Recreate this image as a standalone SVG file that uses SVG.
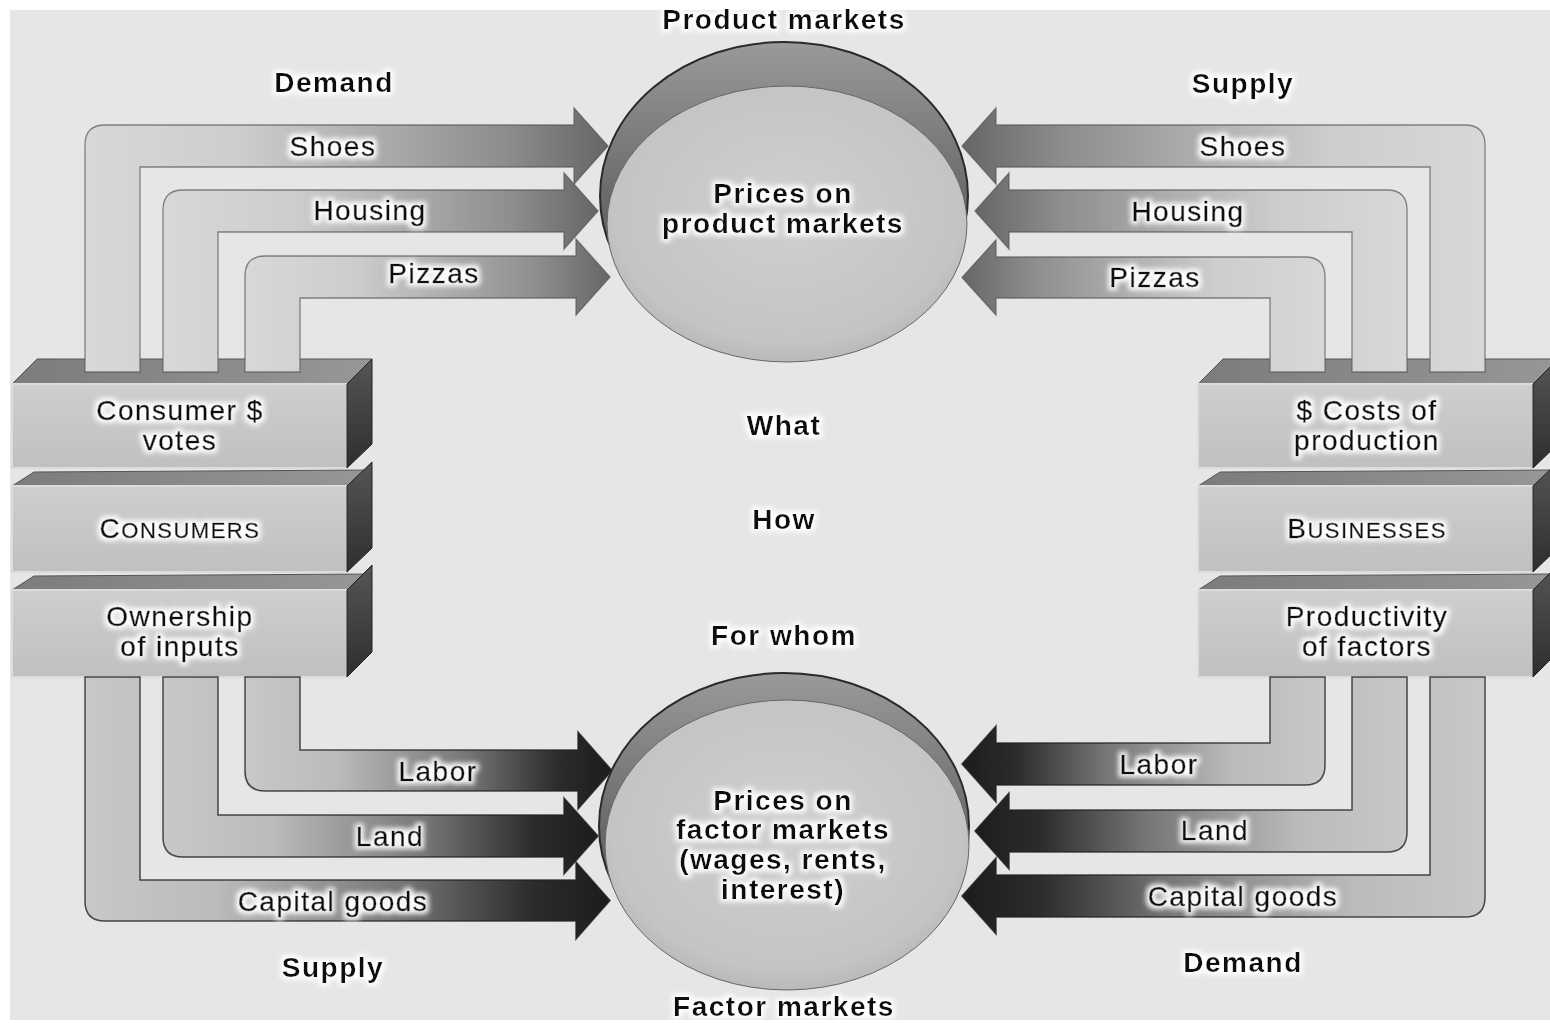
<svg xmlns="http://www.w3.org/2000/svg" width="1550" height="1023" viewBox="0 0 1550 1023">
<defs>
  <filter id="glow" x="-20%" y="-50%" width="140%" height="200%">
    <feMorphology in="SourceAlpha" operator="dilate" radius="2.5" result="d"/>
    <feGaussianBlur in="d" stdDeviation="2.5" result="b"/>
    <feFlood flood-color="#ffffff" flood-opacity="0.95"/>
    <feComposite in2="b" operator="in" result="g"/>
    <feMerge><feMergeNode in="g"/><feMergeNode in="SourceGraphic"/></feMerge>
  </filter>
  <linearGradient id="gTopR" x1="0" y1="0" x2="1" y2="0">
    <stop offset="0" stop-color="#d8d8d8"/>
    <stop offset="0.3" stop-color="#cdcdcd"/>
    <stop offset="0.8" stop-color="#8e8e8e"/>
    <stop offset="1" stop-color="#666666"/>
  </linearGradient>
  <linearGradient id="gTopL" x1="1" y1="0" x2="0" y2="0">
    <stop offset="0" stop-color="#d8d8d8"/>
    <stop offset="0.3" stop-color="#cdcdcd"/>
    <stop offset="0.8" stop-color="#8e8e8e"/>
    <stop offset="1" stop-color="#666666"/>
  </linearGradient>
  <linearGradient id="gBotR" x1="0" y1="0" x2="1" y2="0">
    <stop offset="0" stop-color="#c8c8c8"/>
    <stop offset="0.25" stop-color="#bbbbbb"/>
    <stop offset="0.6" stop-color="#777777"/>
    <stop offset="0.85" stop-color="#2c2c2c"/>
    <stop offset="1" stop-color="#1c1c1c"/>
  </linearGradient>
  <linearGradient id="gBotL" x1="1" y1="0" x2="0" y2="0">
    <stop offset="0" stop-color="#c8c8c8"/>
    <stop offset="0.25" stop-color="#bbbbbb"/>
    <stop offset="0.6" stop-color="#777777"/>
    <stop offset="0.85" stop-color="#2c2c2c"/>
    <stop offset="1" stop-color="#1c1c1c"/>
  </linearGradient>
  <linearGradient id="gFront" x1="0" y1="0" x2="0" y2="1">
    <stop offset="0" stop-color="#cecece"/>
    <stop offset="1" stop-color="#c0c0c0"/>
  </linearGradient>
  <linearGradient id="gTopFace" x1="0" y1="0" x2="1" y2="0">
    <stop offset="0" stop-color="#7c7c7c"/>
    <stop offset="1" stop-color="#979797"/>
  </linearGradient>
  <linearGradient id="gSide" x1="0" y1="0" x2="0" y2="1">
    <stop offset="0" stop-color="#555555"/>
    <stop offset="1" stop-color="#2e2e2e"/>
  </linearGradient>
  <linearGradient id="gRim" x1="0" y1="0" x2="0" y2="1">
    <stop offset="0" stop-color="#9a9a9a"/>
    <stop offset="0.5" stop-color="#6a6a6a"/>
    <stop offset="1" stop-color="#4a4a4a"/>
  </linearGradient>
  <radialGradient id="gFace" cx="0.5" cy="0.45" r="0.6">
    <stop offset="0" stop-color="#d0d0d0"/>
    <stop offset="0.8" stop-color="#c4c4c4"/>
    <stop offset="1" stop-color="#b2b2b2"/>
  </radialGradient>
</defs>
<style>
  text { font-family: "Liberation Sans", Arial, sans-serif; fill: #111; text-anchor: middle; letter-spacing: 1.5px; filter: url(#glow); }
  .b { font-weight: bold; font-size: 28px; }
  .r { font-size: 28px; stroke: #111; stroke-width: 0.5; }
  .front { fill: url(#gFront); stroke: #dcdcdc; stroke-width: 2; }
  .topf { fill: url(#gTopFace); stroke: #555; stroke-width: 1; }
  .side { fill: url(#gSide); stroke: #222; stroke-width: 1; }
  .arT { stroke: #555; stroke-width: 1.3; stroke-opacity: 0.7; }
  .arB { stroke: #222; stroke-width: 1.5; stroke-opacity: 0.8; }
  .rim { fill: url(#gRim); stroke: #2a2a2a; stroke-width: 2; }
  .face { fill: url(#gFace); stroke: #666; stroke-width: 1; }
</style>

<rect x="0" y="0" width="1550" height="1023" fill="#ffffff"/>
<rect x="10" y="10" width="1540" height="1010" fill="#e6e6e6"/>

<g id="consumers">
  <polygon class="topf" points="12,384 37,359 372,359 347,384"/>
  <rect class="front" x="12" y="384" width="335" height="84"/>
  <polygon class="side" points="347,384 372,359 372,444 347,468"/>
  <polygon class="topf" points="12,486 34,472 372,470 347,486"/>
  <rect class="front" x="12" y="486" width="335" height="86"/>
  <polygon class="side" points="347,486 372,462 372,548 347,572"/>
  <polygon class="topf" points="12,590 34,576 372,574 347,590"/>
  <rect class="front" x="12" y="590" width="335" height="87"/>
  <polygon class="side" points="347,590 372,565 372,652 347,677"/>
  <text class="r" x="180" y="420">Consumer $</text>
  <text class="r" x="180" y="450">votes</text>
  <text class="r" x="180" y="538">C<tspan font-size="22">ONSUMERS</tspan></text>
  <text class="r" x="180" y="626">Ownership</text>
  <text class="r" x="180" y="656">of inputs</text>
</g>

<g id="businesses">
  <polygon class="topf" points="1198,384 1223,359 1560,359 1533,384"/>
  <rect class="front" x="1198" y="384" width="335" height="84"/>
  <polygon class="side" points="1533,384 1558,359 1558,444 1533,468"/>
  <polygon class="topf" points="1198,486 1220,472 1558,470 1533,486"/>
  <rect class="front" x="1198" y="486" width="335" height="86"/>
  <polygon class="side" points="1533,486 1558,462 1558,548 1533,572"/>
  <polygon class="topf" points="1198,590 1220,576 1558,574 1533,590"/>
  <rect class="front" x="1198" y="590" width="335" height="87"/>
  <polygon class="side" points="1533,590 1558,565 1558,652 1533,677"/>
  <text class="r" x="1367" y="420">$ Costs of</text>
  <text class="r" x="1367" y="450">production</text>
  <text class="r" x="1367" y="538">B<tspan font-size="22">USINESSES</tspan></text>
  <text class="r" x="1367" y="626">Productivity</text>
  <text class="r" x="1367" y="656">of factors</text>
</g>

<g id="connectors">
  <path class="arT" fill="url(#gTopR)" d="M 85 372 L 85 145 Q 85 125 105 125 L 574 125 L 574 108 L 608 146 L 574 184 L 574 167 L 140 167 L 140 372 Z"/>
  <path class="arT" fill="url(#gTopR)" d="M 163 372 L 163 210 Q 163 190 183 190 L 564 190 L 564 173 L 598 211 L 564 249 L 564 232 L 218 232 L 218 372 Z"/>
  <path class="arT" fill="url(#gTopR)" d="M 245 372 L 245 276 Q 245 256 265 256 L 576 256 L 576 239 L 610 277 L 576 315 L 576 298 L 300 298 L 300 372 Z"/>
  <path class="arT" fill="url(#gTopL)" d="M 1485 372 L 1485 145 Q 1485 125 1465 125 L 996 125 L 996 108 L 962 146 L 996 184 L 996 167 L 1430 167 L 1430 372 Z"/>
  <path class="arT" fill="url(#gTopL)" d="M 1407 372 L 1407 210 Q 1407 190 1387 190 L 1009 190 L 1009 173 L 975 211 L 1009 249 L 1009 232 L 1352 232 L 1352 372 Z"/>
  <path class="arT" fill="url(#gTopL)" d="M 1325 372 L 1325 277 Q 1325 257 1305 257 L 996 257 L 996 240 L 962 277.5 L 996 315 L 996 298 L 1270 298 L 1270 372 Z"/>
  <path class="arB" fill="url(#gBotR)" d="M 300 677 L 300 750 L 578 750 L 578 732 L 612 770.5 L 578 809 L 578 791 L 265 791 Q 245 791 245 771 L 245 677 Z"/>
  <path class="arB" fill="url(#gBotR)" d="M 218 677 L 218 815 L 564 815 L 564 798 L 598 836 L 564 874 L 564 857 L 183 857 Q 163 857 163 837 L 163 677 Z"/>
  <path class="arB" fill="url(#gBotR)" d="M 140 677 L 140 880 L 576 880 L 576 862 L 610 900.5 L 576 939 L 576 921 L 105 921 Q 85 921 85 901 L 85 677 Z"/>
  <path class="arB" fill="url(#gBotL)" d="M 1270 677 L 1270 743 L 996 743 L 996 726 L 962 764 L 996 802 L 996 785 L 1305 785 Q 1325 785 1325 765 L 1325 677 Z"/>
  <path class="arB" fill="url(#gBotL)" d="M 1352 677 L 1352 810 L 1009 810 L 1009 793 L 975 831 L 1009 869 L 1009 852 L 1387 852 Q 1407 852 1407 832 L 1407 677 Z"/>
  <path class="arB" fill="url(#gBotL)" d="M 1430 677 L 1430 875 L 996 875 L 996 858 L 962 896 L 996 934 L 996 917 L 1465 917 Q 1485 917 1485 897 L 1485 677 Z"/>
  <text class="r" x="333" y="156">Shoes</text>
  <text class="r" x="370" y="220">Housing</text>
  <text class="r" x="434" y="283">Pizzas</text>
  <text class="r" x="1243" y="156">Shoes</text>
  <text class="r" x="1188" y="221">Housing</text>
  <text class="r" x="1155" y="287">Pizzas</text>
  <text class="r" x="438" y="781">Labor</text>
  <text class="r" x="390" y="846">Land</text>
  <text class="r" x="333" y="911">Capital goods</text>
  <text class="r" x="1159" y="774">Labor</text>
  <text class="r" x="1215" y="840">Land</text>
  <text class="r" x="1243" y="906">Capital goods</text>
</g>

<g id="product-markets">
  <ellipse class="rim" cx="784" cy="196" rx="184" ry="154"/>
  <ellipse class="face" cx="787" cy="224" rx="180" ry="138"/>
  <text class="b" x="783" y="203">Prices on</text>
  <text class="b" x="783" y="233">product markets</text>
</g>

<g id="factor-markets">
  <ellipse class="rim" cx="784" cy="826" rx="185" ry="153"/>
  <ellipse class="face" cx="787" cy="845" rx="182" ry="145"/>
  <text class="b" x="783" y="810">Prices on</text>
  <text class="b" x="783" y="839">factor markets</text>
  <text class="b" x="783" y="869">(wages, rents,</text>
  <text class="b" x="783" y="899">interest)</text>
</g>

<g id="labels">
  <text class="b" x="784" y="29">Product markets</text>
  <text class="b" x="334" y="92">Demand</text>
  <text class="b" x="1243" y="93">Supply</text>
  <text class="b" x="784" y="435">What</text>
  <text class="b" x="784" y="529">How</text>
  <text class="b" x="784" y="645">For whom</text>
  <text class="b" x="333" y="977">Supply</text>
  <text class="b" x="1243" y="972">Demand</text>
  <text class="b" x="784" y="1016">Factor markets</text>
</g>
</svg>
